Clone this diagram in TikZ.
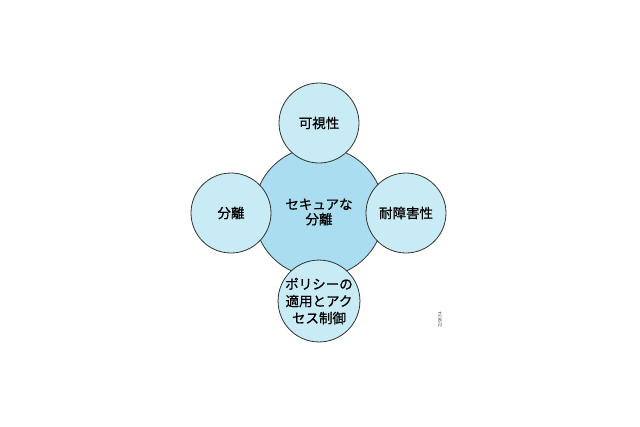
\documentclass[tikz,border=0pt]{standalone}
\usepackage{fontspec}
\newfontfamily\cjk[FakeBold=0.7]{Noto Sans CJK JP}
\begin{document}
\begin{tikzpicture}[x=1pt,y=-1pt,
  bigc/.style={circle,draw=black!80,line width=0.8pt,fill=cyanmain,minimum size=130pt,inner sep=0pt,font=\cjk\fontsize{13.5}{15}\selectfont,align=center},
  smallc/.style={circle,draw=black!80,line width=0.8pt,fill=cyanlight,minimum size=80pt,inner sep=0pt,font=\cjk\fontsize{13.5}{17}\selectfont,align=center},
]
\definecolor{cyanmain}{HTML}{A9DDEF}
\definecolor{cyanlight}{HTML}{C9EBF5}
\useasboundingbox (0,0) rectangle (640,426);
\fill[white] (0,0) rectangle (640,426);
\node[bigc] (c) at (319,212) {セキュアな\\分離};
\node[smallc] (t) at (319,123) {可視性};
\node[smallc] (l) at (231,213) {分離};
\node[smallc] (r) at (406,213) {耐障害性};
\node[smallc] (b) at (319,301) {ポリシーの\\適用とアク\\セス制御};
\node[rotate=90,font=\sffamily\fontsize{5}{6}\selectfont,text=black!70] (id) at (440,320) {229834};
\end{tikzpicture}
\end{document}
